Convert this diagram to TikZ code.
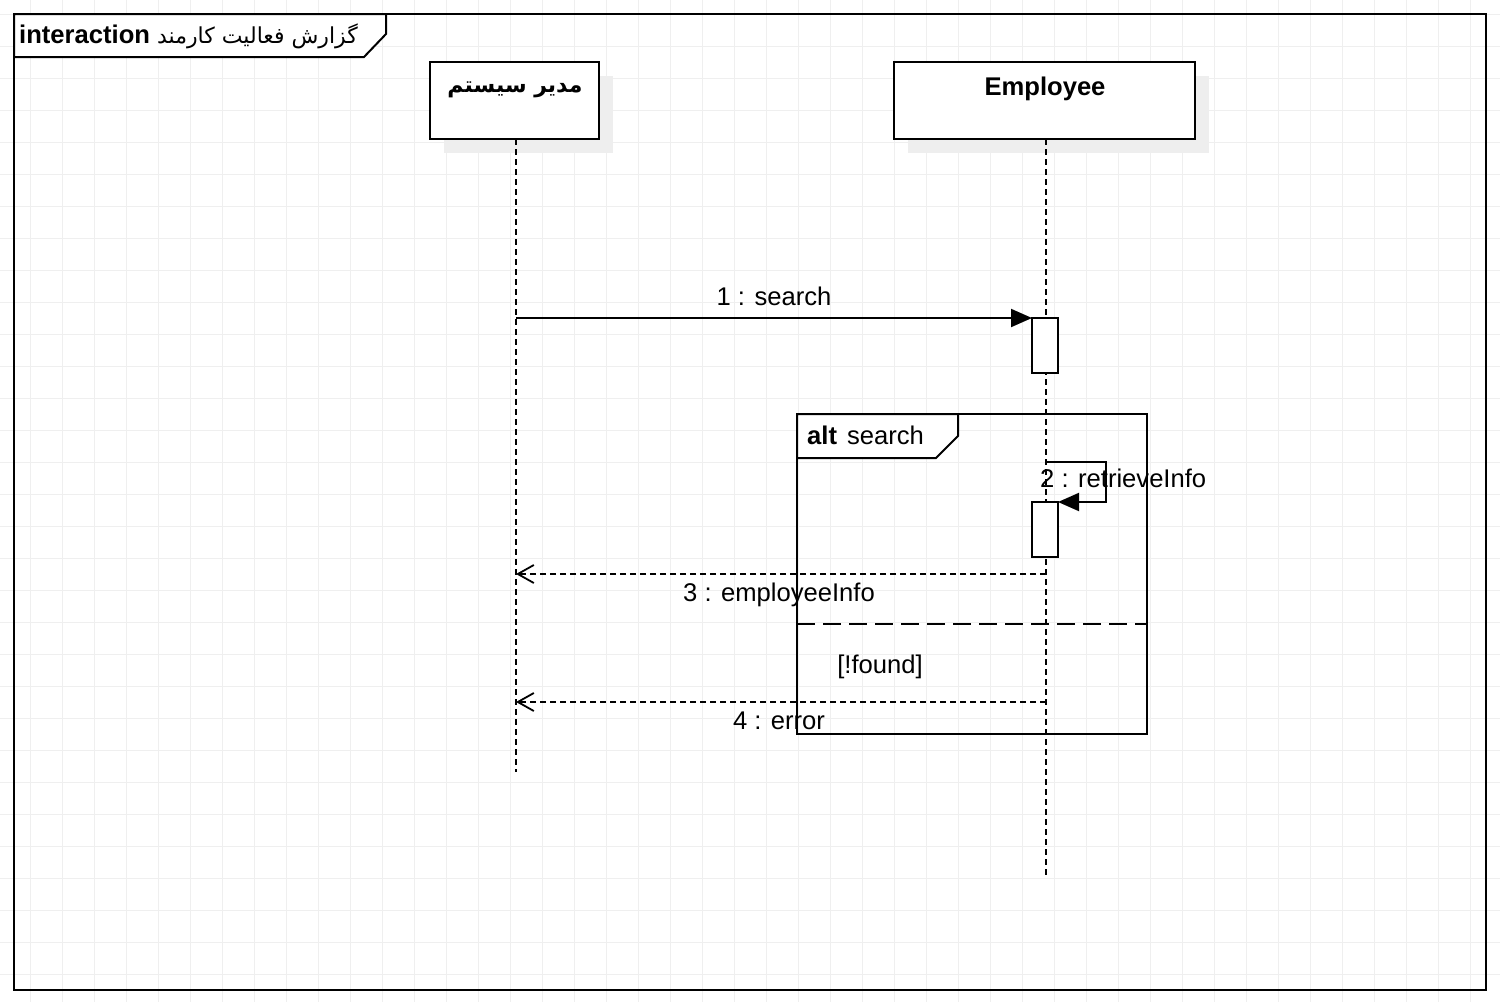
\documentclass[tikz,border=0pt]{standalone}
\usepackage{fontspec}
\setmainfont{Liberation Sans}
\newfontfamily\fa[Script=Arabic]{DejaVu Sans}
\TeXXeTstate=1
\usetikzlibrary{arrows.meta}
\definecolor{gridc}{HTML}{EFEFEF}
\definecolor{shadowc}{HTML}{EEEEEE}
\pgfdeclarelayer{bg}
\pgfsetlayers{bg,main}
\tikzset{
  gridline/.style={draw=gridc, line width=1pt},
  framebox/.style={draw=black, line width=2pt, inner sep=0pt, outer sep=0pt, rectangle},
  tabshape/.style={draw=black, line width=2pt, fill=white, line join=miter},
  headbox/.style={draw=black, line width=2pt, fill=white, inner sep=0pt, outer sep=0pt, rectangle},
  shadowbox/.style={fill=shadowc},
  lifeline/.style={line width=2pt, dash pattern=on 6pt off 4pt},
  actbox/.style={draw=black, line width=2pt, fill=white, minimum width=26pt, minimum height=55pt, inner sep=0pt, outer sep=0pt, rectangle},
  msg/.style={line width=2pt, -{Triangle[length=21pt,width=18pt]}},
  ret/.style={line width=2pt, dash pattern=on 6pt off 4pt, -{Straight Barb[length=16pt,width=18pt,line width=1.8pt]}},
  divider/.style={line width=2pt, dash pattern=on 18pt off 8pt},
  txt/.style={inner sep=0pt, anchor=base},
  fatxt/.style={inner sep=0pt, anchor=base, font=\fa\fontsize{22}{26}\selectfont},
}
\begin{document}
\begin{tikzpicture}[x=1pt, y=-1pt, font=\fontsize{25.6}{30}\selectfont]
\useasboundingbox (0,0) rectangle (1500,1002);
% grid
\begin{pgfonlayer}{bg}
\foreach \gx in {30,62,...,1500} \draw[gridline] (\gx,0) -- (\gx,1002);
\foreach \gy in {14,46,...,1002} \draw[gridline] (0,\gy) -- (1500,\gy);
\end{pgfonlayer}

% outer frame
\node[framebox, minimum width=1472pt, minimum height=976pt] (frame) at (750,502) {};
\draw[tabshape] (frame.north west) -- ++(372,0) -- ++(0,20) -- ++(-22,23) -- ++(-350,0) -- cycle;
\node[txt, anchor=base west] (title) at (19,43.5) {\bfseries interaction\hspace{7pt}{\fa\fontsize{22}{26}\selectfont\mdseries\beginR گزارش فعالیت کارمند\endR}};

% lifeline heads
\node[headbox, minimum width=169pt, minimum height=77pt] (h1) at (514.5,100.5) {};
\node[headbox, minimum width=301pt, minimum height=77pt] (h2) at (1044.5,100.5) {};
\begin{pgfonlayer}{bg}
\fill[shadowbox] ([shift={(14,14)}]h1.north west) rectangle ([shift={(14,14)}]h1.south east);
\fill[shadowbox] ([shift={(14,14)}]h2.north west) rectangle ([shift={(14,14)}]h2.south east);
\end{pgfonlayer}
\node[fatxt] (h1t) at (515,92.7) {\bfseries\beginR مدیر سیستم\endR};
\node[txt] (h2t) at (1045,95.7) {\bfseries Employee};

% lifelines
\coordinate (l1end) at (516,772);
\coordinate (l2end) at (1046,878);
\draw[lifeline] (h1.south -| l1end) -- (l1end);
\draw[lifeline] (h2.south -| l2end) -- (l2end);

% activations
\node[actbox] (a1) at (1045,345.5) {};
\node[actbox] (a2) at (1045,529.5) {};

% alt fragment
\node[framebox, minimum width=350pt, minimum height=320pt] (alt) at (972,574) {};
\draw[tabshape] (alt.north west) -- ++(161,0) -- ++(0,22) -- ++(-22,22) -- ++(-139,0) -- cycle;
\node[txt, anchor=base west] (altl) at (807,444) {\bfseries alt\hspace{10pt}\mdseries search};
\draw[divider] (alt.west |- 0,624) -- (alt.east |- 0,624);
\node[txt] (guard) at (880,673) {[!found]};

% message 1
\coordinate (m1s) at (516,318);
\draw[msg] (m1s) -- (a1.north west);
\node[txt] (m1l) at (774,305.7) {1 : search};

% message 2 (self)
\coordinate (m2s) at (1046,462);
\draw[msg] (m2s) -- ++(60,0) |- (a2.north east);
\node[txt, anchor=base west] (m2l) at (1040,487.3) {2 : retrieveInfo};

% message 3
\coordinate (m3s) at (1046,574);
\coordinate (m3e) at (516,574);
\draw[ret] (m3s) -- (m3e);
\node[txt] (m3l) at (779,601.7) {3 : employeeInfo};

% message 4
\coordinate (m4s) at (1046,702);
\coordinate (m4e) at (516,702);
\draw[ret] (m4s) -- (m4e);
\node[txt] (m4l) at (779,729.7) {4 : error};
\end{tikzpicture}
\end{document}
